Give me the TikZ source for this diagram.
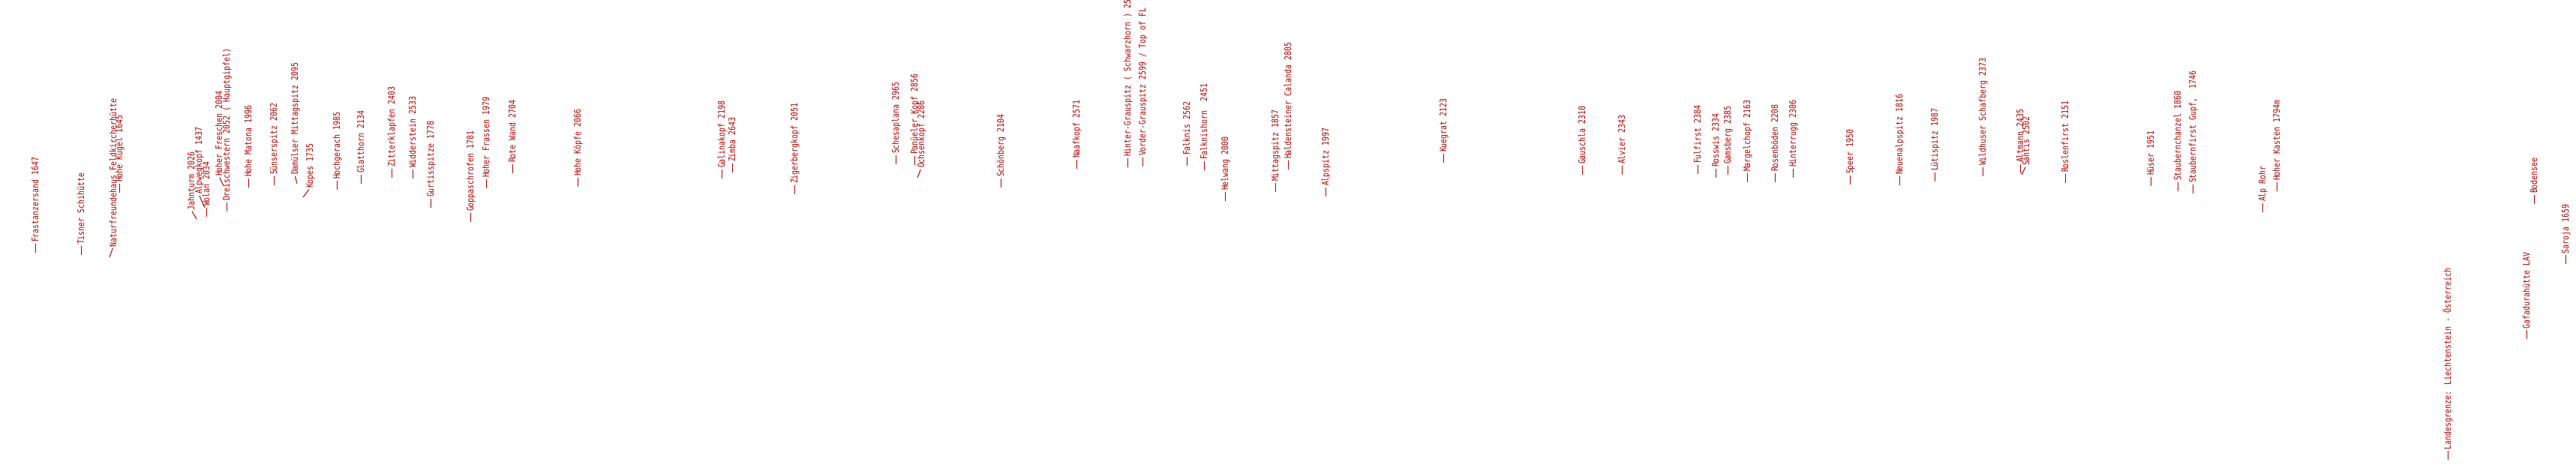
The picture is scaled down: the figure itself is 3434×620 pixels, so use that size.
\documentclass[tikz,border=0pt]{standalone}
\usepackage{fontspec}
\usepackage{tikz}
\newfontfamily\peakfont[FakeStretch=0.83]{DejaVu Sans Mono}
\definecolor{peakred}{RGB}{175,0,0}

\begin{document}
\begin{tikzpicture}[x=1pt, y=-1pt,
  peak/.style={rotate=90, anchor=west, inner sep=0pt, outer sep=0pt, text height=9pt, text depth=1pt, text=peakred, font=\peakfont\fontsize{12}{12}\selectfont},
  leader/.style={draw=peakred, line width=1pt, shorten >=2pt}]
\def \gap {14}

\useasboundingbox (0,0) rectangle (3434,620);
\fill[white] (0,0) rectangle (3434,620);
\clip (0,0) rectangle (3434,620);

\coordinate (c1) at (47,337);
\node[peak] at (47,337-\gap) (n1) {Frastanzersand 1647};
\coordinate (c2) at (108,340);
\node[peak] at (108,340-\gap) (n2) {Tisner Schihütte};
\coordinate (c3) at (146,343);
\node[peak] at (151,329) (n3) {Naturfreundehaus Feldkircherhütte};
\coordinate (c4) at (159,257);
\node[peak] at (159,257-\gap) (n4) {Hohe Kugel 1645};
\coordinate (c5) at (262,292);
\node[peak] at (255,280) (n5) {Jahnturm 2026};
\coordinate (c6) at (273,277);
\node[peak] at (265,259) (n6) {Alpwegkopf 1437};
\coordinate (c7) at (275,289);
\node[peak] at (275,289-\gap) (n7) {Wolan 2034};
\coordinate (c8) at (298,248);
\node[peak] at (292,235) (n8) {Hoher Freschen 2004};
\coordinate (c9) at (302,282);
\node[peak] at (302,282-\gap) (n9) {Dreischwestern 2052 ( Hauptgipfel)};
\coordinate (c10) at (331,250);
\node[peak] at (331,250-\gap) (n10) {Hohe Matona 1996};
\coordinate (c11) at (365,247);
\node[peak] at (365,247-\gap) (n11) {Sünserspitz 2062};
\coordinate (c12) at (396,245);
\node[peak] at (393,233) (n12) {Damülser Mittagspitz 2095};
\coordinate (c13) at (404,263);
\node[peak] at (413,251) (n13) {Kopes 1735};
\coordinate (c14) at (449,253);
\node[peak] at (449,253-\gap) (n14) {Hochgerach 1985};
\coordinate (c15) at (481,245);
\node[peak] at (481,245-\gap) (n15) {Glatthorn 2134};
\coordinate (c16) at (522,237);
\node[peak] at (522,237-\gap) (n16) {Zitterklapfen 2403};
\coordinate (c17) at (550,238);
\node[peak] at (550,238-\gap) (n17) {Widderstein 2533};
\coordinate (c18) at (574,277);
\node[peak] at (574,277-\gap) (n18) {Gurtisspitze 1778};
\coordinate (c19) at (627,296);
\node[peak] at (627,296-\gap) (n19) {Goppaschrofen 1781};
\coordinate (c20) at (648,251);
\node[peak] at (648,251-\gap) (n20) {Hoher Frassen 1979};
\coordinate (c21) at (683,231);
\node[peak] at (683,231-\gap) (n21) {Rote Wand 2704};
\coordinate (c22) at (770,249);
\node[peak] at (770,249-\gap) (n22) {Hohe Köpfe 2066};
\coordinate (c23) at (962,238);
\node[peak] at (962,238-\gap) (n23) {Galinakopf 2198};
\coordinate (c24) at (976,230);
\node[peak] at (976,230-\gap) (n24) {Zimba 2643};
\coordinate (c25) at (1059,259);
\node[peak] at (1059,259-\gap) (n25) {Zigerbergkopf 2051};
\coordinate (c26) at (1194,219);
\node[peak] at (1194,219-\gap) (n26) {Schesaplana 2965};
\coordinate (c27) at (1219,220);
\node[peak] at (1219,220-\gap) (n27) {Panüeler Kopf 2856};
\coordinate (c28) at (1223,237);
\node[peak] at (1228,224) (n28) {Ochsenkopf 2286};
\coordinate (c29) at (1334,250);
\node[peak] at (1334,250-\gap) (n29) {Schönberg 2104};
\coordinate (c30) at (1435,225);
\node[peak] at (1435,225-\gap) (n30) {Naafkopf 2571};
\coordinate (c31) at (1503,223);
\node[peak] at (1503,223-\gap) (n31) {Hinter-Grauspitz ( Schwarzhorn ) 2574};
\coordinate (c32) at (1523,222);
\node[peak] at (1523,222-\gap) (n32) {Vorder-Grauspitz 2599 / Top of FL};
\coordinate (c33) at (1582,221);
\node[peak] at (1582,221-\gap) (n33) {Falknis 2562};
\coordinate (c34) at (1605,227);
\node[peak] at (1605,227-\gap) (n34) {Falknishorn\ \ 2451};
\coordinate (c35) at (1633,268);
\node[peak] at (1633,268-\gap) (n35) {Helwang 2000};
\coordinate (c36) at (1700,256);
\node[peak] at (1700,256-\gap) (n36) {Mittagspitz 1857};
\coordinate (c37) at (1717,226);
\node[peak] at (1717,226-\gap) (n37) {Haldensteiner Calanda 2805};
\coordinate (c38) at (1767,262);
\node[peak] at (1767,262-\gap) (n38) {Alpspitz 1997};
\coordinate (c39) at (1924,217);
\node[peak] at (1924,217-\gap) (n39) {Kuegrat 2123};
\coordinate (c40) at (2109,233);
\node[peak] at (2109,233-\gap) (n40) {Gauschla 2310};
\coordinate (c41) at (2162,233);
\node[peak] at (2162,233-\gap) (n41) {Alvier 2343};
\coordinate (c42) at (2263,232);
\node[peak] at (2263,232-\gap) (n42) {Fulfirst 2384};
\coordinate (c43) at (2287,237);
\node[peak] at (2287,237-\gap) (n43) {Rosswis 2334};
\coordinate (c44) at (2303,233);
\node[peak] at (2303,233-\gap) (n44) {Gamsberg 2385};
\coordinate (c45) at (2329,243);
\node[peak] at (2329,243-\gap) (n45) {Margelchopf 2163};
\coordinate (c46) at (2366,243);
\node[peak] at (2366,243-\gap) (n46) {Rosenböden 2208};
\coordinate (c47) at (2390,237);
\node[peak] at (2390,237-\gap) (n47) {Hinterrugg 2306};
\coordinate (c48) at (2466,246);
\node[peak] at (2466,246-\gap) (n48) {Speer 1950};
\coordinate (c49) at (2532,247);
\node[peak] at (2532,247-\gap) (n49) {Neuenalpspitz 1816};
\coordinate (c50) at (2579,242);
\node[peak] at (2579,242-\gap) (n50) {Lütispitz 1987};
\coordinate (c51) at (2643,235);
\node[peak] at (2643,235-\gap) (n51) {Wildhuser Schafberg 2373};
\coordinate (c52) at (2693,231);
\node[peak] at (2693,231-\gap) (n52) {Altmann 2435};
\coordinate (c53) at (2695,233);
\node[peak] at (2701,221) (n53) {Säntis 2502};
\coordinate (c54) at (2753,244);
\node[peak] at (2753,244-\gap) (n54) {Roslenfirst 2151};
\coordinate (c55) at (2867,248);
\node[peak] at (2867,248-\gap) (n55) {Hüser 1951};
\coordinate (c56) at (2903,255);
\node[peak] at (2903,255-\gap) (n56) {Staubernchanzel 1860};
\coordinate (c57) at (2923,258);
\node[peak] at (2923,258-\gap) (n57) {Staubernfirst Gupf,\ \ 1746};
\coordinate (c58) at (3016,283);
\node[peak] at (3016,283-\gap) (n58) {Alp Rohr};
\coordinate (c59) at (3035,255);
\node[peak] at (3035,255-\gap) (n59) {Hoher Kasten 1794m};
\coordinate (c60) at (3263,613);
\node[peak] at (3263,613-\gap) (n60) {Landesgrenze: Liechtenstein - Österreich};
\coordinate (c61) at (3368,452);
\node[peak] at (3368,452-\gap) (n61) {Gafadurahütte LAV};
\coordinate (c62) at (3378,272);
\node[peak] at (3378,272-\gap) (n62) {Bodensee};
\coordinate (c63) at (3420,352);
\node[peak] at (3420,352-\gap) (n63) {Saroja 1659};

\foreach \i in {1,...,63}
  \path[leader] (c\i) edge (n\i.west);

\end{tikzpicture}
\end{document}
